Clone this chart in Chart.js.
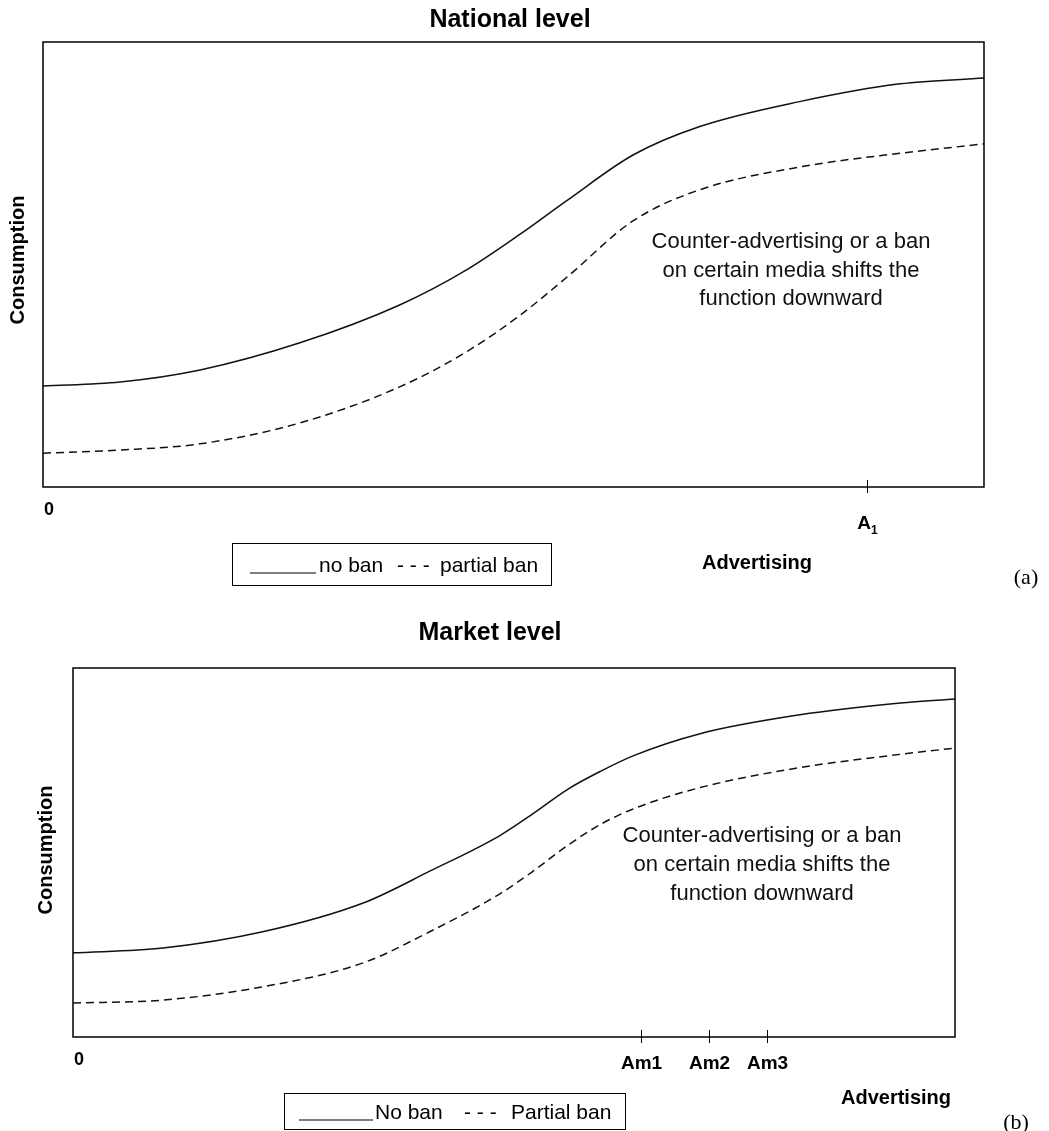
<!DOCTYPE html>
<html>
<head>
<meta charset="utf-8">
<script src="https://cdn.jsdelivr.net/npm/chart.js@4.4.1/dist/chart.umd.min.js"></script>
<style>
  html, body { margin: 0; padding: 0; background: #fff; }
  #wrap { position: relative; width: 1049px; height: 1131px; }
  canvas { position: absolute; left: 0; }
  #national { top: 0; }
  #market { top: 600px; }
</style>
</head>
<body>
<div id="wrap">
  <canvas id="national" width="1049" height="600"></canvas>
  <canvas id="market" width="1049" height="531"></canvas>
</div>
<script>
'use strict';
// advertising on 0..100, consumption on 0..100 (no units in the figure)
const xNational = [0, 8.2, 16.7, 27.3, 37.9, 45.1, 50.7, 55.7, 62.7, 69.8, 80.4, 91.1, 100];
const noBanNational = [22.7, 23.6, 26.3, 32.4, 40.9, 48.9, 56.8, 64.4, 74.6, 81.0, 86.6, 90.6, 91.9];
const partialNational = [7.6, 8.3, 9.7, 14.4, 22.5, 30.5, 38.6, 47.2, 59.8, 66.8, 71.9, 75.0, 77.1];
const ticksNational = [87.6];
const tickLabelsNational = [['A', '1']];

const xMarket = [0, 10.2, 21.5, 32.9, 40.5, 48.4, 52.2, 56.0, 59.8, 63.5, 71.1, 82.4, 93.8, 100];
const noBanMarket = [22.8, 24.1, 28.5, 36.3, 45.0, 54.6, 60.6, 67.0, 72.0, 76.2, 82.2, 87.3, 90.5, 91.6];
const partialMarket = [9.2, 10.0, 13.6, 20.1, 28.6, 38.8, 45.0, 51.8, 57.6, 61.8, 67.6, 73.0, 76.6, 78.3];
const ticksMarket = [64.4, 72.1, 78.7];
const tickLabelsMarket = [['Am1', ''], ['Am2', ''], ['Am3', '']];

const noteLines = ['Counter-advertising or a ban', 'on certain media shifts the', 'function downward'];

const SANS = '"Liberation Sans", Arial, Helvetica, sans-serif';
const SERIF = '"Liberation Serif", "Times New Roman", serif';

const toPoints = (xs, ys) => xs.map((x, i) => ({x, y: ys[i]}));

// draws the frame, tick marks, labels, note and legend box
const decor = {
  id: 'decor',
  afterDraw(chart, args, o) {
    const {ctx, chartArea: a, scales: {x}} = chart;
    ctx.save();
    ctx.strokeStyle = '#000';
    ctx.fillStyle = '#000';
    ctx.lineWidth = 1.5;
    ctx.strokeRect(a.left, a.top, a.right - a.left, a.bottom - a.top);

    // tick marks crossing the x axis
    ctx.lineWidth = 1;
    o.ticks.forEach((v, i) => {
      const px = Math.round(x.getPixelForValue(v)) + 0.5;
      ctx.beginPath();
      ctx.moveTo(px, a.bottom - 7);
      ctx.lineTo(px, a.bottom + 6);
      ctx.stroke();
      const [main, sub] = o.tickLabels[i];
      ctx.font = 'bold 19px ' + SANS;
      const w = ctx.measureText(main).width;
      ctx.font = 'bold 12px ' + SANS;
      const ws = sub ? ctx.measureText(sub).width : 0;
      const left = px - (w + ws) / 2;
      ctx.font = 'bold 19px ' + SANS;
      ctx.textAlign = 'left';
      ctx.textBaseline = 'alphabetic';
      ctx.fillText(main, left, a.bottom + o.tickLabelDy);
      if (sub) {
        ctx.font = 'bold 12px ' + SANS;
        ctx.fillText(sub, left + w, a.bottom + o.tickLabelDy + 5);
      }
    });
    ctx.font = 'bold 18px ' + SANS;
    ctx.textAlign = 'left';
    ctx.fillText('0', a.left + 1, a.bottom + 28);

    // title
    ctx.font = 'bold 25px ' + SANS;
    ctx.textAlign = 'center';
    ctx.fillText(o.title, o.titleX, o.titleY);

    // axis titles
    ctx.font = 'bold 20px ' + SANS;
    ctx.fillText('Advertising', o.xTitle[0], o.xTitle[1]);
    ctx.save();
    ctx.translate(o.yTitle[0], o.yTitle[1]);
    ctx.rotate(-Math.PI / 2);
    ctx.textBaseline = 'middle';
    ctx.fillText('Consumption', 0, 0);
    ctx.restore();

    // note
    ctx.font = '22px ' + SANS;
    ctx.fillStyle = '#111';
    noteLines.forEach((t, i) => ctx.fillText(t, o.note[0], o.note[1] + i * o.note[2]));

    // legend box
    const L = o.legend;
    ctx.fillStyle = '#000';
    ctx.lineWidth = 1;
    ctx.strokeRect(L.box[0] + 0.5, L.box[1] + 0.5, L.box[2], L.box[3]);
    ctx.lineWidth = 1.2;
    ctx.beginPath();
    ctx.moveTo(L.seg[0], L.base + 1);
    ctx.lineTo(L.seg[1], L.base + 1);
    ctx.stroke();
    ctx.font = '21px ' + SANS;
    ctx.textAlign = 'left';
    ctx.fillText(L.labels[0], L.pos[0], L.base);
    ctx.fillText('- - -', L.pos[1], L.base);
    ctx.fillText(L.labels[1], L.pos[2], L.base);

    // panel letter
    ctx.font = '22px ' + SERIF;
    ctx.textAlign = 'center';
    ctx.fillText(o.letter, o.letterPos[0], o.letterPos[1]);
    ctx.restore();
  }
};

const makePanel = (id, xs, noBan, partial, padding, deco) => new Chart(document.getElementById(id), {
  type: 'line',
  data: {
    datasets: [
      {
        label: 'no ban',
        data: toPoints(xs, noBan),
        borderColor: '#111',
        borderWidth: 1.5,
        pointRadius: 0,
        cubicInterpolationMode: 'monotone',
        fill: false,
      },
      {
        label: 'partial ban',
        data: toPoints(xs, partial),
        borderColor: '#111',
        borderWidth: 1.5,
        borderDash: [8, 5],
        pointRadius: 0,
        cubicInterpolationMode: 'monotone',
        fill: false,
      },
    ],
  },
  options: {
    responsive: false,
    animation: false,
    events: [],
    devicePixelRatio: 1,
    layout: {padding},
    scales: {
      x: {type: 'linear', min: 0, max: 100, display: false},
      y: {min: 0, max: 100, display: false},
    },
    plugins: {
      legend: {display: false},
      title: {display: false},
      tooltip: {enabled: false},
      decor: deco,
    },
  },
  plugins: [decor],
});

makePanel('national', xNational, noBanNational, partialNational,
  {left: 43, top: 42, right: 65, bottom: 113},
  {
    ticks: ticksNational, tickLabels: tickLabelsNational, tickLabelDy: 42,
    title: 'National level', titleX: 510, titleY: 27,
    xTitle: [757, 569], yTitle: [18, 260],
    note: [791, 248, 28.5],
    legend: {box: [232, 543, 319, 42], seg: [250, 316], base: 572, pos: [319, 397, 440], labels: ['no ban', 'partial ban']},
    letter: '(a)', letterPos: [1026, 584],
  });

makePanel('market', xMarket, noBanMarket, partialMarket,
  {left: 73, top: 68, right: 94, bottom: 94},
  {
    ticks: ticksMarket, tickLabels: tickLabelsMarket, tickLabelDy: 32,
    title: 'Market level', titleX: 490, titleY: 40,
    xTitle: [896, 504], yTitle: [46, 250],
    note: [762, 242, 29],
    legend: {box: [284, 493, 341, 36], seg: [299, 373], base: 519, pos: [375, 464, 511], labels: ['No ban', 'Partial ban']},
    letter: '(b)', letterPos: [1016, 529],
  });
</script>
</body>
</html>
